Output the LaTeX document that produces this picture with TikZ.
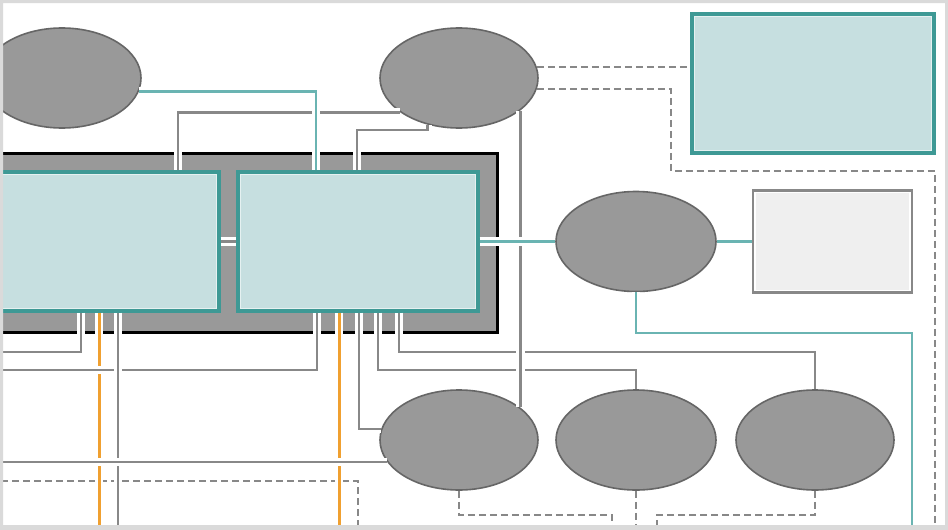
\documentclass[tikz,border=0pt]{standalone}
\usetikzlibrary{shapes.geometric}
\definecolor{tealbd}{HTML}{3E9995}
\definecolor{tealfill}{HTML}{C6DFE0}
\definecolor{tealln}{HTML}{6AB4B2}
\definecolor{ellfill}{HTML}{999999}
\definecolor{ellbd}{HTML}{666666}
\definecolor{conn}{HTML}{888888}
\definecolor{orng}{HTML}{F0A030}
\definecolor{framec}{HTML}{DADADA}
\definecolor{lgfill}{HTML}{EFEFEF}
\begin{document}
\begin{tikzpicture}[x=1pt,y=-1pt,
 ell/.style={ellipse, draw=ellbd, fill=ellfill, line width=1.6pt, minimum width=158pt, minimum height=100pt, inner sep=0pt},
 tbox/.style={rectangle, draw=tealbd, fill=tealfill, line width=3.2pt, inner sep=0pt,
   path picture={\draw[white!55!tealfill, line width=5.5pt] (path picture bounding box.south west) rectangle (path picture bounding box.north east);}},
 gbox/.style={rectangle, draw=conn, fill=lgfill, line width=2.8pt, inner sep=0pt,
   path picture={\draw[white, line width=5.5pt] (path picture bounding box.south west) rectangle (path picture bounding box.north east);}},
 cased/.style={line width=2.8pt, preaction={draw=white, line width=8.5pt}},
 gline/.style={cased, draw=conn},
 tline/.style={cased, draw=tealln},
 oline/.style={cased, draw=orng, line width=3pt},
 dline/.style={draw=conn, line width=2.8pt, dash pattern=on 7pt off 4pt},
]
\fill[white] (0,0) rectangle (948,530);
\useasboundingbox (0,0) rectangle (948,530);

% container
\node[rectangle, draw=black, fill=ellfill, line width=3pt, minimum width=540pt, minimum height=179pt, inner sep=0pt] (C) at (227,242.5) {};

% nodes
\node[ell] (TL) at (62,78) {};
\node[ell] (TM) at (459,78) {};
\node[tbox, minimum width=242pt, minimum height=139pt] (TR) at (813,83.5) {};
\node[tbox, minimum width=260pt, minimum height=139pt] (L) at (89,241.5) {};
\node[tbox, minimum width=240pt, minimum height=139pt] (M) at (358,241.5) {};
\node[ell, minimum width=160pt] (MR) at (636,241.5) {};
\node[gbox, minimum width=159pt, minimum height=102pt] (GR) at (832.5,241.5) {};
\node[ell] (B1) at (459,440) {};
\node[ell, minimum width=160pt] (B2) at (636,440) {};
\node[ell] (B3) at (815,440) {};

% helper coordinates
\coordinate (bot) at (0,540);
\coordinate (fA) at (-10,352);
\coordinate (fB) at (-10,370);
\coordinate (fC) at (-10,462);
\coordinate (fD) at (-10,481);
\coordinate (k352) at (0,352);
\coordinate (k370) at (0,370);
\coordinate (x81) at (81,0);
\coordinate (x99) at (99,0);
\coordinate (x118) at (118,0);
\coordinate (x178) at (178,0);
\coordinate (x316) at (316,0);
\coordinate (x317) at (317,0);
\coordinate (x339) at (339,0);
\coordinate (x357) at (357,0);
\coordinate (x358) at (358,0);
\coordinate (x359) at (359,0);
\coordinate (x378) at (378,0);
\coordinate (x399) at (399,0);
\coordinate (d1) at (671,171);
\coordinate (d2) at (935,540);
\coordinate (b1a) at (612,515);
\coordinate (b1b) at (612,540);
\coordinate (b3a) at (657,515);
\coordinate (b3b) at (657,540);
\coordinate (tmm) at (357,130);
\coordinate (t1) at (912,333);
\coordinate (t2) at (912,540);

% dashed
\draw[dline] (TM.8.1) -- (TM.8.1 -| TR.west);
\draw[dline] (TM.-8.1) -| (d1) -| (d2);
\draw[dline] (fD) -| (x358 |- bot);
\draw[dline] (B1.south) |- (b1a) -- (b1b);
\draw[dline] (B2.south) -- (B2.south |- bot);
\draw[dline] (B3.south) |- (b3a) -- (b3b);
% orange
\draw[oline] (L.south -| x99) -- (x99 |- bot);
\draw[oline] (M.south -| x339) -- (x339 |- bot);
% gray
\draw[gline] (L.south -| x81) |- (fA);
\draw[gline] (M.south -| x317) |- (fB);
\draw[gline] (L.south -| x118) -- (x118 |- bot);
\draw[gline] (B1.197.2 -| fC) -- (B1.197.2);
\draw[gline] (M.south -| x359) |- (B1.172.6);
\draw[gline] (M.south -| x378) |- (B2.north |- k370) -- (B2.north);
\draw[gline] (M.south -| x399) |- (B3.north |- k352) -- (B3.north);
\draw[gline] (TM.-28.4) -- (TM.-28.4 |- B1.28.4);
\draw[gline] (TM.210.4) -| (L.north -| x178);
\draw[gline] (TM.236) |- (tmm) -- (M.north -| x357);
\draw[gline] (L.east) -- (M.west);
% teal
\draw[tline] (TL.-10.3) -| (M.north -| x316);
\draw[tline] (M.east) -- (MR.west);
\draw[tline] (MR.east) -- (GR.west);
\draw[tline] (MR.south) |- (t1) -- (t2);

% frame
\fill[framec, even odd rule] (-100,-100) rectangle (1048,630) (3,3) rectangle (945,525);
\end{tikzpicture}
\end{document}
